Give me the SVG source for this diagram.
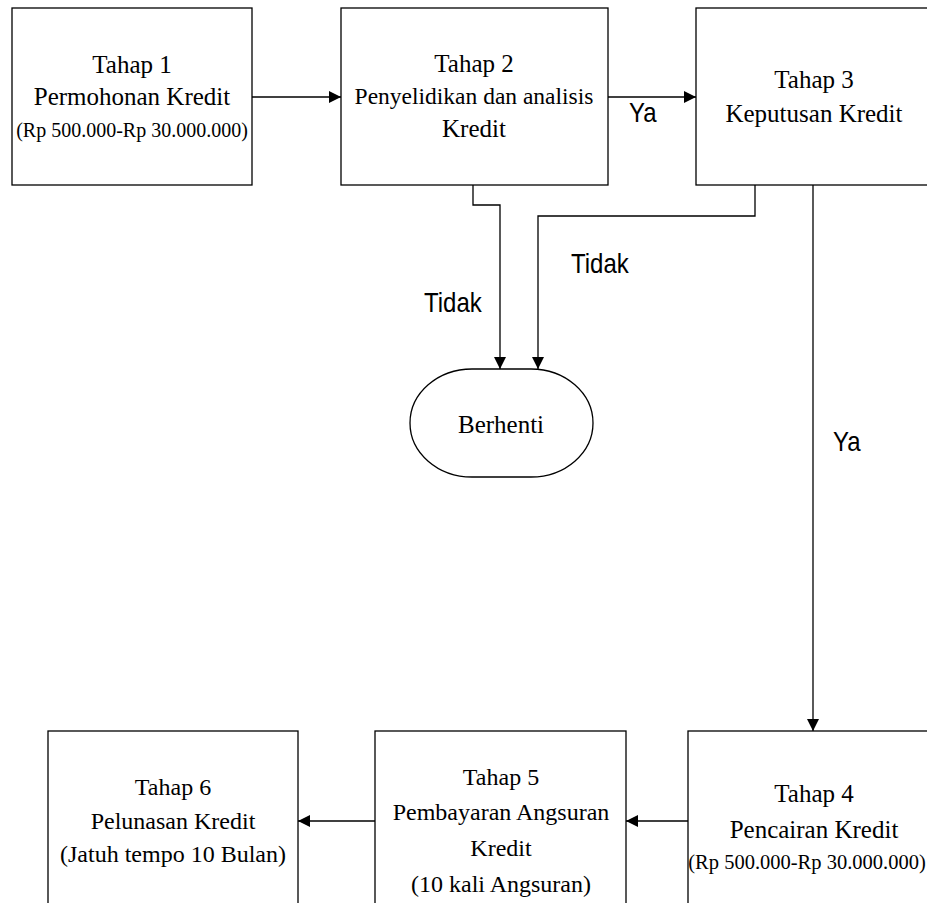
<svg xmlns="http://www.w3.org/2000/svg" width="927" height="903" viewBox="0 0 927 903">
<defs>
<marker id="arr" markerUnits="userSpaceOnUse" markerWidth="12" markerHeight="12" refX="12" refY="6" orient="auto">
<path d="M0,0 L12,6 L0,12 Z" fill="#000"/>
</marker>
<style>
.box{fill:#fff;stroke:#000;stroke-width:1.3}
.t{font-family:"Liberation Serif","Times New Roman",serif;font-size:24px;fill:#000;text-anchor:middle}
.s{font-family:"Liberation Serif","Times New Roman",serif;font-size:20px;fill:#000;text-anchor:middle}
.lb{font-family:"Liberation Sans",Arial,sans-serif;font-size:24px;fill:#000}
.c{fill:none;stroke:#000;stroke-width:1.3;marker-end:url(#arr)}
</style>
</defs>
<rect width="927" height="903" fill="#fff"/>
<g id="connectors">
<path class="c" d="M252,97 H341"/>
<path class="c" d="M608,97 H696"/>
<path class="c" d="M473,185 V205 H500 V369"/>
<path class="c" d="M755,185 V216 H538 V369"/>
<path class="c" d="M813,185 V731"/>
<path class="c" d="M688,821 H626"/>
<path class="c" d="M375,821 H298"/>
<text class="lb" transform="translate(629,122) scale(1,1.15)">Ya</text>
<text class="lb" transform="translate(424,312) scale(1,1.15)">Tidak</text>
<text class="lb" transform="translate(571,273) scale(1,1.15)">Tidak</text>
<text class="lb" transform="translate(833,451) scale(1,1.15)">Ya</text>
</g>
<g id="tahap1">
<rect class="box" x="12" y="8" width="240" height="177"/>
<text class="t" x="132" y="73" style="font-size:25px">Tahap 1</text>
<text class="t" x="132" y="105" style="font-size:25px">Permohonan Kredit</text>
<text class="s" x="132" y="137">(Rp 500.000-Rp 30.000.000)</text>
</g>
<g id="tahap2">
<rect class="box" x="341" y="8" width="267" height="177"/>
<text class="t" x="474" y="72" style="font-size:25px">Tahap 2</text>
<text class="t" x="474" y="104" style="font-size:23.5px">Penyelidikan dan analisis</text>
<text class="t" x="474" y="137" style="font-size:25px">Kredit</text>
</g>
<g id="tahap3">
<rect class="box" x="696" y="8" width="240" height="177"/>
<text class="t" x="814" y="88" style="font-size:25px">Tahap 3</text>
<text class="t" x="814" y="122" style="font-size:25px">Keputusan Kredit</text>
</g>
<g id="berhenti">
<rect class="box" x="410" y="369" width="183" height="108" rx="62" ry="54"/>
<text class="t" x="501" y="433" style="font-size:25px">Berhenti</text>
</g>
<g id="tahap4">
<rect class="box" x="688" y="731" width="252" height="190"/>
<text class="t" x="814" y="802" style="font-size:25px">Tahap 4</text>
<text class="t" x="814" y="838" style="font-size:25px">Pencairan Kredit</text>
<text class="s" x="807" y="869" style="font-size:20.5px">(Rp 500.000-Rp 30.000.000)</text>
</g>
<g id="tahap5">
<rect class="box" x="375" y="731" width="251" height="190"/>
<text class="t" x="501" y="785">Tahap 5</text>
<text class="t" x="501" y="820">Pembayaran Angsuran</text>
<text class="t" x="501" y="856">Kredit</text>
<text class="t" x="501" y="892">(10 kali Angsuran)</text>
</g>
<g id="tahap6">
<rect class="box" x="48" y="731" width="250" height="190"/>
<text class="t" x="173" y="795">Tahap 6</text>
<text class="t" x="173" y="829">Pelunasan Kredit</text>
<text class="t" x="173" y="862">(Jatuh tempo 10 Bulan)</text>
</g>
</svg>
